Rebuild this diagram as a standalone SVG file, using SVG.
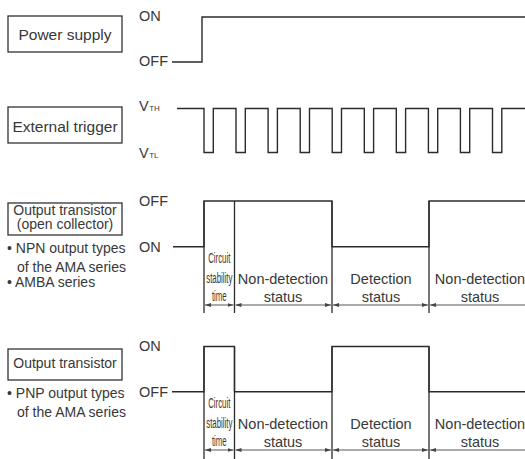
<svg xmlns="http://www.w3.org/2000/svg" width="525" height="459" viewBox="0 0 525 459">
<style>
  text { font-family: "Liberation Sans", Arial, sans-serif; fill: #383838; }
  .lbl { font-size: 14.5px; }
  .box { fill: #fff; stroke: #333; stroke-width: 1.3; }
  .sig { fill: none; stroke: #2b2b2b; stroke-width: 1.4; }
  .grid { fill: none; stroke: #2b2b2b; stroke-width: 1.3; }
  .arr { fill: none; stroke: #444; stroke-width: 0.9; }
  .st { font-size: 14.5px; text-anchor: middle; }
  .cs { font-size: 14px; text-anchor: middle; }
  .sub { font-size: 8px; }
</style>
<defs>
  <marker id="ah" viewBox="0 0 6 4" refX="6" refY="2" markerWidth="6" markerHeight="4" orient="auto-start-reverse" markerUnits="userSpaceOnUse">
    <path d="M0 0 L6 2 L0 4 Z" fill="#444"/>
  </marker>
</defs>
<rect width="525" height="459" fill="#fff"/>

<g id="power-supply">
  <rect class="box" x="8" y="16" width="114" height="36"/>
  <text x="65" y="40" font-size="15.5" text-anchor="middle">Power supply</text>
  <text class="lbl" x="139" y="21">ON</text>
  <text class="lbl" x="139" y="66">OFF</text>
  <path class="sig" d="M172 62 H202 V17 H525"/>
</g>

<g id="external-trigger">
  <rect class="box" x="8" y="107" width="114" height="36"/>
  <text x="65" y="131.5" font-size="15.5" text-anchor="middle">External trigger</text>
  <text class="lbl" x="139" y="111">V<tspan class="sub" dx="0.5">TH</tspan></text>
  <text class="lbl" x="139" y="158">V<tspan class="sub" dx="0.5">TL</tspan></text>
  <path class="sig" d="M177 108.5 H204 V152.5 H213.3 V108.5 H236 V152.5 H245.3 V108.5 H268.1 V152.5 H277.4 V108.5 H300.2 V152.5 H309.5 V108.5 H332.2 V152.5 H341.5 V108.5 H364.3 V152.5 H373.6 V108.5 H396.3 V152.5 H405.6 V108.5 H428.4 V152.5 H437.7 V108.5 H460.4 V152.5 H469.7 V108.5 H492.5 V152.5 H501.8 V108.5 H525"/>
</g>

<g id="output-npn">
  <rect class="box" x="8" y="203" width="114" height="32"/>
  <text x="65" y="214.5" font-size="14" text-anchor="middle">Output transistor</text>
  <text x="65" y="229" font-size="14" text-anchor="middle">(open collector)</text>
  <text x="7" y="253" font-size="14">• NPN output types</text>
  <text x="17" y="271.5" font-size="14">of the AMA series</text>
  <text x="7" y="287" font-size="14">• AMBA series</text>
  <text class="lbl" x="139" y="206">OFF</text>
  <text class="lbl" x="139" y="252">ON</text>
  <path class="sig" d="M173 246.7 H204 V201 H332 V246.7 H429 V201 H525"/>
  <path class="grid" d="M204 201 V313 M234.5 201 V313 M332 201 V313 M429 201 V313"/>
  <text class="cs" transform="translate(219.3 262.5) scale(0.56 1)">Circuit</text>
  <text class="cs" transform="translate(219.3 283) scale(0.56 1)">stability</text>
  <text class="cs" transform="translate(219.3 301) scale(0.56 1)">time</text>
  <text class="st" x="283" y="284">Non-detection</text>
  <text class="st" x="283" y="301.5">status</text>
  <text class="st" x="381" y="284">Detection</text>
  <text class="st" x="381" y="301.5">status</text>
  <text class="st" x="480" y="284">Non-detection</text>
  <text class="st" x="480" y="301.5">status</text>
</g>

<g id="output-pnp">
  <rect class="box" x="8" y="349" width="114" height="31"/>
  <text x="65" y="367.5" font-size="14" text-anchor="middle">Output transistor</text>
  <text x="7" y="398" font-size="14">• PNP output types</text>
  <text x="17" y="417" font-size="14">of the AMA series</text>
  <text class="lbl" x="139" y="351">ON</text>
  <text class="lbl" x="139" y="397">OFF</text>
  <path class="sig" d="M172 391.7 H204 V346.5 H234.5 V391.7 H332 V346.5 H429 V391.7 H525"/>
  <path class="grid" d="M204 346.5 V459 M234.5 346.5 V459 M332 346.5 V459 M429 346.5 V459"/>
  <text class="cs" transform="translate(219.3 407.5) scale(0.56 1)">Circuit</text>
  <text class="cs" transform="translate(219.3 428) scale(0.56 1)">stability</text>
  <text class="cs" transform="translate(219.3 446) scale(0.56 1)">time</text>
  <text class="st" x="283" y="429">Non-detection</text>
  <text class="st" x="283" y="446.5">status</text>
  <text class="st" x="381" y="429">Detection</text>
  <text class="st" x="381" y="446.5">status</text>
  <text class="st" x="480" y="429">Non-detection</text>
  <text class="st" x="480" y="446.5">status</text>
</g>

<g id="connectors">
  <line class="arr" x1="205" y1="305" x2="233.5" y2="305" marker-start="url(#ah)" marker-end="url(#ah)"/>
  <line class="arr" x1="235.5" y1="305" x2="331" y2="305" marker-start="url(#ah)" marker-end="url(#ah)"/>
  <line class="arr" x1="333" y1="305" x2="428" y2="305" marker-start="url(#ah)" marker-end="url(#ah)"/>
  <line class="arr" x1="430" y1="305" x2="525" y2="305" marker-start="url(#ah)"/>
  <line class="arr" x1="205" y1="450" x2="233.5" y2="450" marker-start="url(#ah)" marker-end="url(#ah)"/>
  <line class="arr" x1="235.5" y1="450" x2="331" y2="450" marker-start="url(#ah)" marker-end="url(#ah)"/>
  <line class="arr" x1="333" y1="450" x2="428" y2="450" marker-start="url(#ah)" marker-end="url(#ah)"/>
  <line class="arr" x1="430" y1="450" x2="525" y2="450" marker-start="url(#ah)"/>
</g>
</svg>
